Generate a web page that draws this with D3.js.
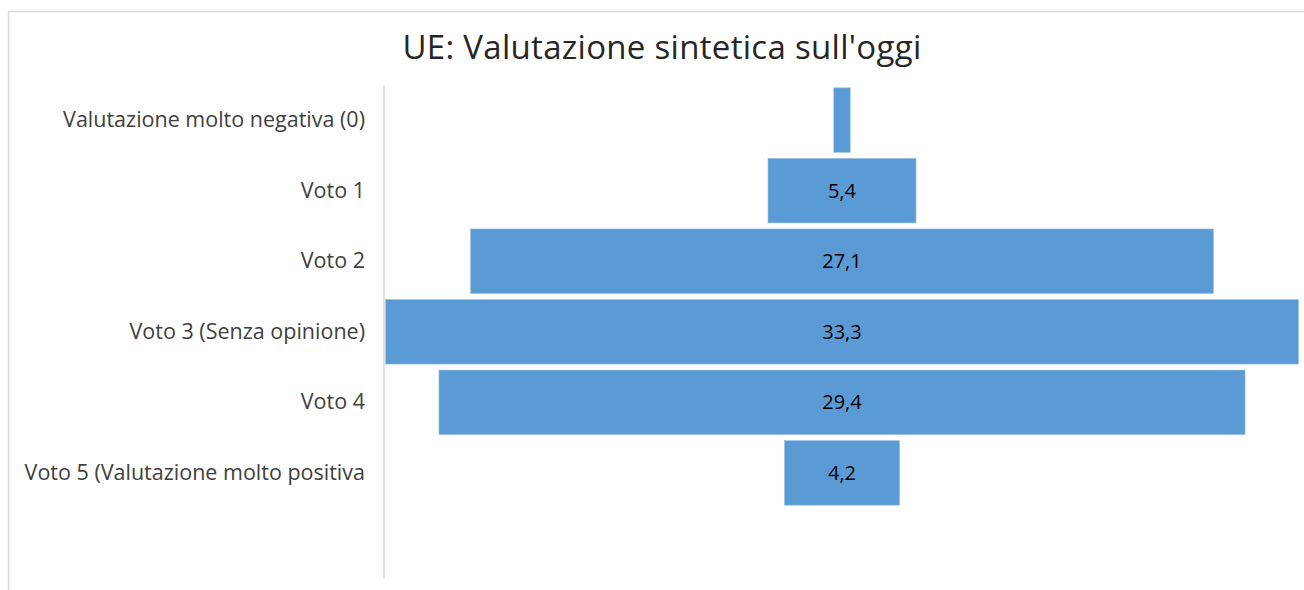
<!DOCTYPE html>
<html>
<head>
<meta charset="utf-8">
<script src="https://cdn.jsdelivr.net/npm/d3@7"></script>
<style>
  body { margin: 0; background: #fff; }
  svg { display: block; font-family: "Open Sans", "Noto Sans", sans-serif; }
  .catLabel { font-size: 21.5px; fill: #404040; }
  .valLabel { font-size: 20px; fill: #000; }
  .title { font-size: 33px; fill: #262626; letter-spacing: 0.3px; }
</style>
</head>
<body>
<svg></svg>
<script>
const w = 1304;
const h = 590;

const categories = [
  "Valutazione molto negativa (0)",
  "Voto 1",
  "Voto 2",
  "Voto 3 (Senza opinione)",
  "Voto 4",
  "Voto 5 (Valutazione molto positiva"
];
const values = [0.6, 5.4, 27.1, 33.3, 29.4, 4.2];
const labels = ["", "5,4", "27,1", "33,3", "29,4", "4,2"];

const axisX = 384;
const center = 842;
const plotTop = 85;
const plotBottom = 508;

const svg = d3.select("svg").attr("width", w).attr("height", h);

// chart frame (only top and left edges visible)
svg.append("line")
  .attr("x1", 8).attr("x2", w).attr("y1", 11.5).attr("y2", 11.5)
  .attr("stroke", "#d9d9d9").attr("stroke-width", 1.5);
svg.append("line")
  .attr("x1", 8.5).attr("x2", 8.5).attr("y1", 11).attr("y2", h)
  .attr("stroke", "#d9d9d9").attr("stroke-width", 1.5);

svg.append("text")
  .attr("class", "title")
  .attr("x", 662)
  .attr("y", 59)
  .attr("text-anchor", "middle")
  .text("UE: Valutazione sintetica sull'oggi");

const yScale = d3.scaleBand()
  .domain(categories)
  .range([plotTop, plotBottom])
  .paddingInner(0.085)
  .paddingOuter(0.04);

const wScale = d3.scaleLinear()
  .domain([0, d3.max(values)])
  .range([0, 2 * (center - axisX - 1.5)]);

/** bars centered on the funnel axis */
svg.selectAll("rect.bar")
  .data(values)
  .enter()
  .append("rect")
  .attr("class", "bar")
  .attr("x", (d) => center - wScale(d) / 2)
  .attr("y", (d, i) => yScale(categories[i]))
  .attr("width", (d) => wScale(d))
  .attr("height", yScale.bandwidth())
  .attr("fill", "#5b9bd5")
  .attr("stroke", "#9cc2e5")
  .attr("stroke-width", 0.6);

svg.selectAll("text.valLabel")
  .data(labels)
  .enter()
  .append("text")
  .attr("class", "valLabel")
  .attr("x", center)
  .attr("y", (d, i) => yScale(categories[i]) + yScale.bandwidth() / 2)
  .attr("dy", "0.35em")
  .attr("text-anchor", "middle")
  .text((d) => d);

/** category axis */
const yAxis = d3.axisLeft(yScale).tickSize(0).tickPadding(19);
const gAxis = svg.append("g")
  .attr("transform", `translate(${axisX},0)`)
  .call(yAxis);
gAxis.select(".domain").remove();
gAxis.attr("font-family", null).attr("font-size", null);
gAxis.selectAll("text")
  .attr("class", "catLabel")
  .attr("fill", null);

svg.append("line")
  .attr("x1", axisX).attr("x2", axisX)
  .attr("y1", plotTop).attr("y2", 579)
  .attr("stroke", "#d9d9d9").attr("stroke-width", 1.5);
</script>
</body>
</html>
